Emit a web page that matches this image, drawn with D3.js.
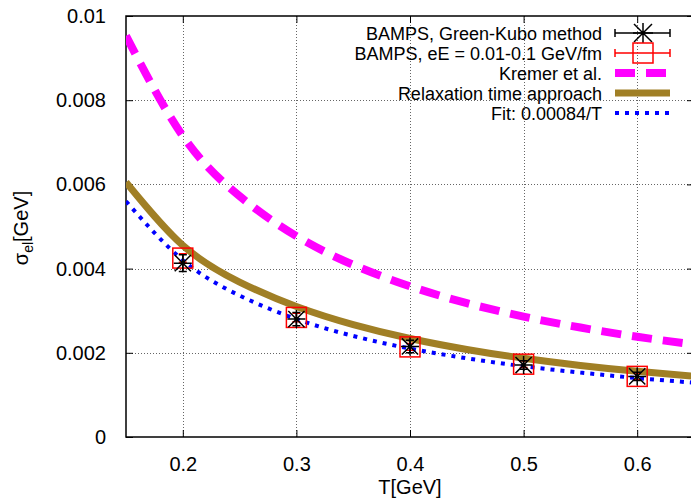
<!DOCTYPE html>
<html>
<head>
<meta charset="utf-8">
<script src="https://cdn.jsdelivr.net/npm/d3@7"></script>
<style>
  body { margin: 0; background: #fff; }
  svg { display: block; font-family: "Liberation Sans", Arial, sans-serif; }
</style>
</head>
<body>
<svg id="chart" width="691" height="498"></svg>
<script>
// BAMPS points
const T_POINTS = [0.2, 0.3, 0.4, 0.5, 0.6];
const GK_SIGMA = [0.00413, 0.0028, 0.00215, 0.00171, 0.00144];
const GK_ERR = [0.0002, 0.00016, 0.00015, 0.0001, 0.0001];
const EE_SIGMA = [0.00425, 0.00284, 0.00214, 0.00173, 0.00144];
const EE_ERR = [0.0001, 0.0001, 0.00008, 0.00008, 0.00008];

// curves
const T_CURVE = [0.15, 0.2, 0.25, 0.3, 0.35, 0.4, 0.45, 0.5, 0.55, 0.6, 0.65];
const KREMER = [0.00953, 0.00715, 0.00572, 0.00477, 0.00409, 0.00358, 0.00318, 0.00286, 0.0026, 0.00238, 0.0022];
const RELAX = [0.00605, 0.00455, 0.00368, 0.0031, 0.00267, 0.00234, 0.00208, 0.00187, 0.0017, 0.00156, 0.00144];
const FIT = [0.0056, 0.0042, 0.00336, 0.0028, 0.0024, 0.0021, 0.00187, 0.00168, 0.00153, 0.0014, 0.00129];

const X_TICKS = [0.2, 0.3, 0.4, 0.5, 0.6];
const Y_TICKS = [0, 0.002, 0.004, 0.006, 0.008, 0.01];

const LEGEND = ['BAMPS, Green-Kubo method', 'BAMPS, eE = 0.01-0.1 GeV/fm', 'Kremer et al.', 'Relaxation time approach', 'Fit: 0.00084/T'];

const svg = d3.select('#chart');
const pL = 126, pR = 694, pT = 16, pB = 437;

const x = d3.scaleLinear().domain([0.15, 0.65]).range([pL, pR]);
const y = d3.scaleLinear().domain([0, 0.01]).range([pB, pT]);

svg.append('defs').append('clipPath').attr('id', 'plotclip')
  .append('rect').attr('x', pL).attr('y', pT).attr('width', pR - pL).attr('height', pB - pT);

// grid
const grid = svg.append('g').attr('stroke', '#666').attr('stroke-width', 1).attr('stroke-dasharray', '1,2');
grid.selectAll('.gx').data(X_TICKS).enter().append('line')
  .attr('x1', d => Math.round(x(d)) + 0.5).attr('x2', d => Math.round(x(d)) + 0.5)
  .attr('y1', pT).attr('y2', pB);
grid.selectAll('.gy').data(Y_TICKS.slice(1, -1)).enter().append('line')
  .attr('y1', d => Math.round(y(d)) + 0.5).attr('y2', d => Math.round(y(d)) + 0.5)
  .attr('x1', pL).attr('x2', pR);

// axes with inward ticks
const xAxisB = d3.axisBottom(x).tickValues(X_TICKS).tickSize(-7).tickPadding(20).tickFormat(d3.format('.1f'));
const xAxisT = d3.axisTop(x).tickValues(X_TICKS).tickSize(-7).tickFormat('');
const yAxisL = d3.axisLeft(y).tickValues(Y_TICKS).tickSize(-7).tickPadding(20).tickFormat(d => d === 0 ? '0' : String(+d.toFixed(3)));
const yAxisR = d3.axisRight(y).tickValues(Y_TICKS).tickSize(-7).tickFormat('');

function styleAxis(g) {
  g.select('.domain').remove();
  g.selectAll('.tick line').attr('stroke', '#000');
  g.selectAll('.tick text').attr('font-size', 20).attr('fill', '#000')
    .attr('font-family', '"Liberation Sans", Arial, sans-serif');
}
svg.append('g').attr('transform', `translate(0,${pB})`).call(xAxisB).call(styleAxis);
svg.append('g').attr('transform', `translate(0,${pT})`).call(xAxisT).call(styleAxis);
svg.append('g').attr('transform', `translate(${pL},0)`).call(yAxisL).call(styleAxis);
svg.append('g').attr('transform', `translate(${pR},0)`).call(yAxisR).call(styleAxis);

// frame
svg.append('rect').attr('x', pL).attr('y', pT).attr('width', pR - pL).attr('height', pB - pT)
  .attr('fill', 'none').attr('stroke', '#000').attr('stroke-width', 1.5);

// curves
const curves = svg.append('g').attr('clip-path', 'url(#plotclip)');
const line = d3.line().x(d => x(d[0])).y(d => y(d[1])).curve(d3.curveNatural);
const curveDefs = [
  { vals: KREMER, color: '#ff00ff', width: 8, dash: '20,11' },
  { vals: RELAX, color: '#a07f25', width: 7, dash: null },
  { vals: FIT, color: '#0000ff', width: 4, dash: '4,6' }
];
curveDefs.forEach(c => {
  curves.append('path').datum(T_CURVE.map((t, i) => [t, c.vals[i]]))
    .attr('d', line).attr('fill', 'none').attr('stroke', c.color)
    .attr('stroke-width', c.width).attr('stroke-dasharray', c.dash);
});

// points
function star(g, cx, cy, r) {
  const s = r * 0.9;
  g.append('path').attr('d', `M${cx - r},${cy}H${cx + r}M${cx},${cy - r}V${cy + r}M${cx - s},${cy - s}L${cx + s},${cy + s}M${cx - s},${cy + s}L${cx + s},${cy - s}`)
    .attr('stroke', '#000').attr('stroke-width', 1.5).attr('fill', 'none');
}
const pts = svg.append('g');
T_POINTS.forEach((t, i) => {
  const cx = x(t);
  // red square + error bar
  const cy2 = y(EE_SIGMA[i]);
  pts.append('path').attr('d', `M${cx},${y(EE_SIGMA[i] - EE_ERR[i])}V${y(EE_SIGMA[i] + EE_ERR[i])}M${cx - 4},${y(EE_SIGMA[i] - EE_ERR[i])}h8M${cx - 4},${y(EE_SIGMA[i] + EE_ERR[i])}h8`)
    .attr('stroke', '#ff0000').attr('stroke-width', 1.5).attr('fill', 'none');
  pts.append('rect').attr('x', cx - 10).attr('y', cy2 - 10).attr('width', 20).attr('height', 20)
    .attr('fill', 'none').attr('stroke', '#ff0000').attr('stroke-width', 1.5);
  // black star + error bar
  const cy = y(GK_SIGMA[i]);
  pts.append('path').attr('d', `M${cx},${y(GK_SIGMA[i] - GK_ERR[i])}V${y(GK_SIGMA[i] + GK_ERR[i])}M${cx - 4},${y(GK_SIGMA[i] - GK_ERR[i])}h8M${cx - 4},${y(GK_SIGMA[i] + GK_ERR[i])}h8`)
    .attr('stroke', '#000').attr('stroke-width', 1.5).attr('fill', 'none');
  star(pts, cx, cy, 9);
  pts.append('circle').attr('cx', cx).attr('cy', cy).attr('r', 2).attr('fill', '#000');
});

// legend
const leg = svg.append('g');
const rowY = i => 33 + i * 20;
LEGEND.forEach((txt, i) => {
  leg.append('text').attr('x', 602).attr('y', rowY(i) + 6.5).attr('text-anchor', 'end')
    .attr('font-size', 18).attr('fill', '#000').text(txt);
});
const lx1 = 615, lx2 = 670, lxc = 643;
// GK
leg.append('path').attr('d', `M${lx1},${rowY(0)}H${lx2}M${lx1},${rowY(0) - 4}v8M${lx2},${rowY(0) - 4}v8`)
  .attr('stroke', '#000').attr('stroke-width', 1.5);
star(leg, lxc, rowY(0), 10);
// eE
leg.append('path').attr('d', `M${lx1},${rowY(1)}H${lx2}M${lx1},${rowY(1) - 4}v8M${lx2},${rowY(1) - 4}v8`)
  .attr('stroke', '#ff0000').attr('stroke-width', 1.5);
leg.append('rect').attr('x', lxc - 10).attr('y', rowY(1) - 10).attr('width', 20).attr('height', 20)
  .attr('fill', 'none').attr('stroke', '#ff0000').attr('stroke-width', 1.5);
curveDefs.forEach((c, k) => {
  leg.append('line').attr('x1', lx1).attr('x2', k === 0 ? 666 : lx2).attr('y1', rowY(k + 2)).attr('y2', rowY(k + 2))
    .attr('stroke', c.color).attr('stroke-width', c.width).attr('stroke-dasharray', c.dash);
});

// axis titles
svg.append('text').attr('x', 410).attr('y', 494).attr('text-anchor', 'middle')
  .attr('font-size', 20).attr('fill', '#000').text('T[GeV]');
const yl = svg.append('text').attr('transform', 'translate(28,228) rotate(-90)').attr('text-anchor', 'middle')
  .attr('font-size', 20).attr('fill', '#000');
yl.append('tspan').text('σ');
yl.append('tspan').attr('font-size', 14).attr('dy', 5).text('el');
yl.append('tspan').attr('dy', -5).text('[GeV]');
</script>
</body>
</html>
